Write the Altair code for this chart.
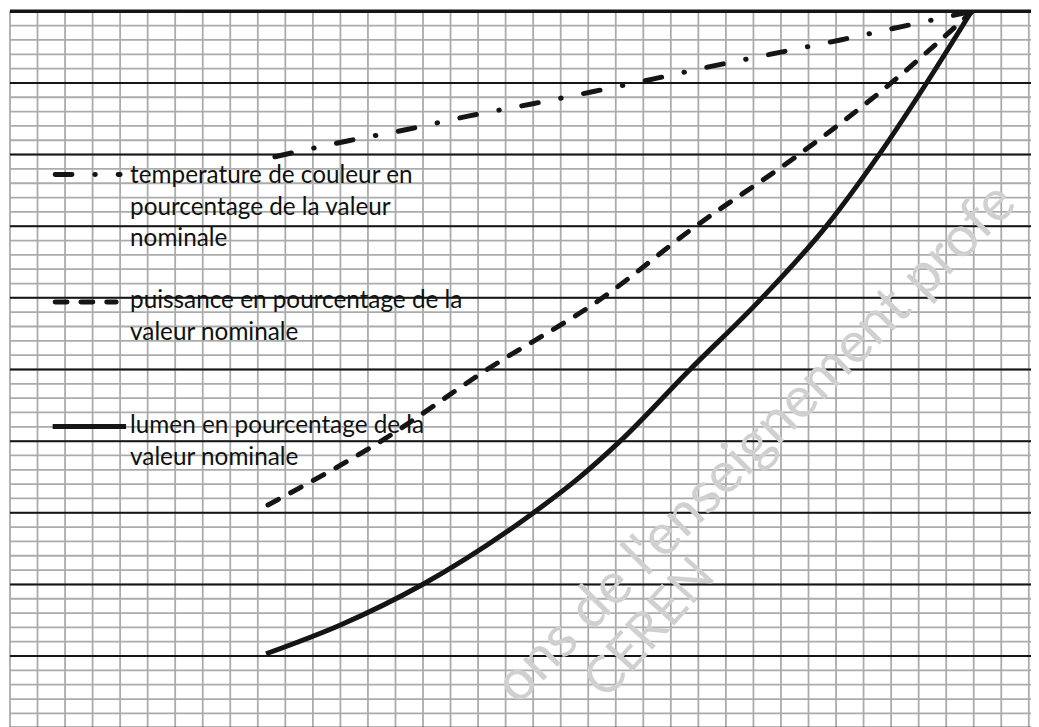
import altair as alt
import pandas as pd

# ---- data (x in grid columns, y in % of chart height) ----
lumen_x = [9.30, 12.00, 14.95, 18.99, 20.65, 22.13, 24.68, 27.28, 29.62, 31.53, 33.26, 34.92]
lumen_y = [10.32, 14.34, 19.92, 29.94, 34.83, 39.89, 49.93, 59.86, 69.88, 79.81, 89.82, 100.0]

power_x = [9.37, 13.44, 17.30, 21.48, 24.86, 28.58, 31.96, 34.95]
power_y = [31.09, 39.92, 49.93, 59.90, 69.88, 79.81, 89.86, 100.0]

temp_x = [9.62, 12.25, 14.41, 16.68, 18.99, 21.19, 23.42, 25.33, 28.0, 30.16, 32.43, 34.95]
temp_y = [79.7, 81.9, 83.5, 85.4, 87.1, 88.8, 90.6, 92.2, 94.3, 96.0, 97.9, 100.0]

legend_labels = [
    "temperature de couleur en\npourcentage de la valeur\nnominale",
    "puissance en pourcentage de la\nvaleur nominale",
    "lumen en pourcentage de la\nvaleur nominale",
]
watermark_main = "ons de l'enseignement profe"
watermark_small = "CEREN"

x_grid = list(range(0, 38))
y_minor = list(range(0, 101, 2))
y_major = list(range(0, 100, 10))
y_top = [100]

XMAX = 37.08
W, H = 1029, 722
INK = "#151515"
GRID = "#ababab"
FONT = "Lato"

xs = alt.Scale(domain=[0, XMAX], nice=False, zero=False)
ys = alt.Scale(domain=[0, 100], nice=False, zero=False)
noax = None

vgrid = alt.Chart(pd.DataFrame({"x": x_grid})).mark_rule(color=GRID, strokeWidth=1.8).encode(
    x=alt.X("x:Q", scale=xs, axis=noax)
)
hgrid = alt.Chart(pd.DataFrame({"y": y_minor})).mark_rule(color=GRID, strokeWidth=1.8).encode(
    y=alt.Y("y:Q", scale=ys, axis=noax)
)
major = alt.Chart(pd.DataFrame({"y": y_major})).mark_rule(color=INK, strokeWidth=2).encode(
    y=alt.Y("y:Q", scale=ys, axis=noax)
)
top = alt.Chart(pd.DataFrame({"y": y_top})).mark_rule(color=INK, strokeWidth=3.5).encode(
    y=alt.Y("y:Q", scale=ys, axis=noax)
)

wm1 = alt.Chart(pd.DataFrame({"t": [watermark_main]})).mark_text(
    angle=315, fontSize=58, color="#d0d0d0", font=FONT, align="center", baseline="middle"
).encode(text="t:N", x=alt.value(752), y=alt.value(436))
wm2 = alt.Chart(pd.DataFrame({"t": [watermark_small]})).mark_text(
    angle=312, fontSize=52, color="#d0d0d0", font=FONT, align="center", baseline="middle"
).encode(text="t:N", x=alt.value(645), y=alt.value(622))


def series(xv, yv, **mk):
    df = pd.DataFrame({"x": xv, "y": yv})
    return alt.Chart(df).mark_line(interpolate="monotone", clip=True, color=INK, **mk).encode(
        x=alt.X("x:Q", scale=xs, axis=noax), y=alt.Y("y:Q", scale=ys, axis=noax)
    )


TEMP_DASH = [17, 23, 0.5, 23]
POW_DASH = [12, 14]

l_temp = series(temp_x, temp_y, strokeWidth=5, strokeDash=TEMP_DASH, strokeCap="round")
l_pow = series(power_x, power_y, strokeWidth=5, strokeDash=POW_DASH, strokeCap="round")
l_lum = series(lumen_x, lumen_y, strokeWidth=5)

one = pd.DataFrame({"a": [0]})
sym_temp = alt.Chart(one).mark_rule(color=INK, strokeWidth=5, strokeDash=TEMP_DASH, strokeCap="round").encode(
    x=alt.value(45.5), x2=alt.value(111), y=alt.value(164.5))
sym_pow = alt.Chart(one).mark_rule(color=INK, strokeWidth=5, strokeDash=POW_DASH, strokeCap="round").encode(
    x=alt.value(45.5), x2=alt.value(107), y=alt.value(293))
sym_lum = alt.Chart(one).mark_rule(color=INK, strokeWidth=5).encode(
    x=alt.value(43), x2=alt.value(117), y=alt.value(418.5))


def label(txt, ybase):
    return alt.Chart(pd.DataFrame({"t": [txt]})).mark_text(
        align="left", baseline="alphabetic", fontSize=24.5, font=FONT, color="#111111",
        lineBreak="\n", lineHeight=31.8
    ).encode(text="t:N", x=alt.value(121), y=alt.value(ybase))


lab_temp = label(legend_labels[0], 173)
lab_pow = label(legend_labels[1], 299.5)
lab_lum = label(legend_labels[2], 425)

chart = alt.layer(
    vgrid, hgrid, major, top, wm1, wm2, l_lum, l_pow, l_temp,
    sym_temp, sym_pow, sym_lum, lab_temp, lab_pow, lab_lum
).properties(
    width=W, height=H, autosize="none",
    padding={"left": 2, "top": 0.5, "right": 0, "bottom": 0},
    background="white",
).configure_view(stroke=None)

chart.save("out.html", embed_options={"renderer": "svg", "actions": False})
